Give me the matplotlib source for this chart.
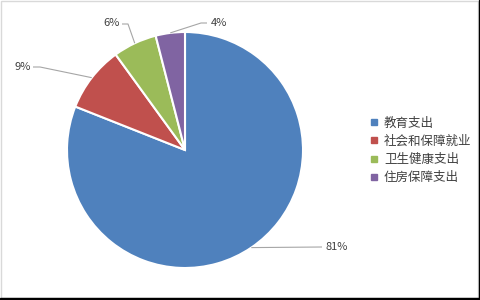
import matplotlib
matplotlib.use("Agg")
import matplotlib.pyplot as plt
import numpy as np
from matplotlib.patches import Rectangle
from matplotlib.lines import Line2D

plt.rcParams['font.family'] = ['Noto Sans CJK SC', 'DejaVu Sans']

categories = ["教育支出", "社会和保障就业", "卫生健康支出", "住房保障支出"]
values = [81, 9, 6, 4]
pct_labels = ["81%", "9%", "6%", "4%"]
colors = ["#4F81BD", "#C0504D", "#9BBB59", "#8064A2"]

W, H = 481, 300
fig = plt.figure(figsize=(W / 100, H / 100), dpi=100)
ax = fig.add_axes([0, 0, 1, 1])
ax.set_xlim(0, W)
ax.set_ylim(0, H)
ax.set_aspect('equal')
ax.axis('off')

cx, cy, r = 185, 150, 118
wedges, _ = ax.pie(values, colors=colors, startangle=90, counterclock=False,
                   center=(cx, cy), radius=r, frame=True,
                   wedgeprops=dict(edgecolor='white', linewidth=1.5))
ax.set_xlim(0, W)
ax.set_ylim(0, H)
ax.axis('off')

# label placement (pixel offsets, image y downward -> convert)
label_layout = [
    ((322, 247), (326, 247), 'left'),
    ((40, 67), (31, 67), 'right'),
    ((128, 24), (120, 23), 'right'),
    ((201, 23), (211, 23), 'left'),
]
for w, lab, (elbow, tpos, ha) in zip(wedges, pct_labels, label_layout):
    mid = np.deg2rad((w.theta1 + w.theta2) / 2)
    ex, ey = cx + r * np.cos(mid), cy + r * np.sin(mid)
    bx, by = elbow[0], H - elbow[1]
    tx, ty = tpos[0], H - tpos[1]
    endx = tx - 4 if ha == 'left' else tx + 2
    ax.plot([ex, bx, endx], [ey, by, by], color='#A6A6A6', lw=0.8,
            solid_capstyle='butt')
    ax.text(tx, ty, lab, ha=ha, va='center', fontsize=8, color='#404040')

handles = [Line2D([0], [0], marker='s', linestyle='none', markersize=4.3,
                  markerfacecolor=c, markeredgecolor=c) for c in colors]
fig.legend(handles, categories, loc='upper left',
           bbox_to_anchor=(369 / W, 1 - 116.5 / H), frameon=False,
           fontsize=9, labelspacing=0.42, handlelength=0.8,
           handletextpad=0.4, borderpad=0, borderaxespad=0,
           labelcolor='#404040')

# border
fig.patches.append(Rectangle((0.5 / W, 2 / H), (W - 3) / W, (H - 3) / H,
                             transform=fig.transFigure, fill=False,
                             edgecolor='#D9D9D9', linewidth=1))
fig.patches.append(Rectangle(((W - 2) / W, 0), 2 / W, 1,
                             transform=fig.transFigure, color='black'))
fig.patches.append(Rectangle((0, 0), 1, 2 / H,
                             transform=fig.transFigure, color='black'))

fig.savefig("out.png", dpi=100)
